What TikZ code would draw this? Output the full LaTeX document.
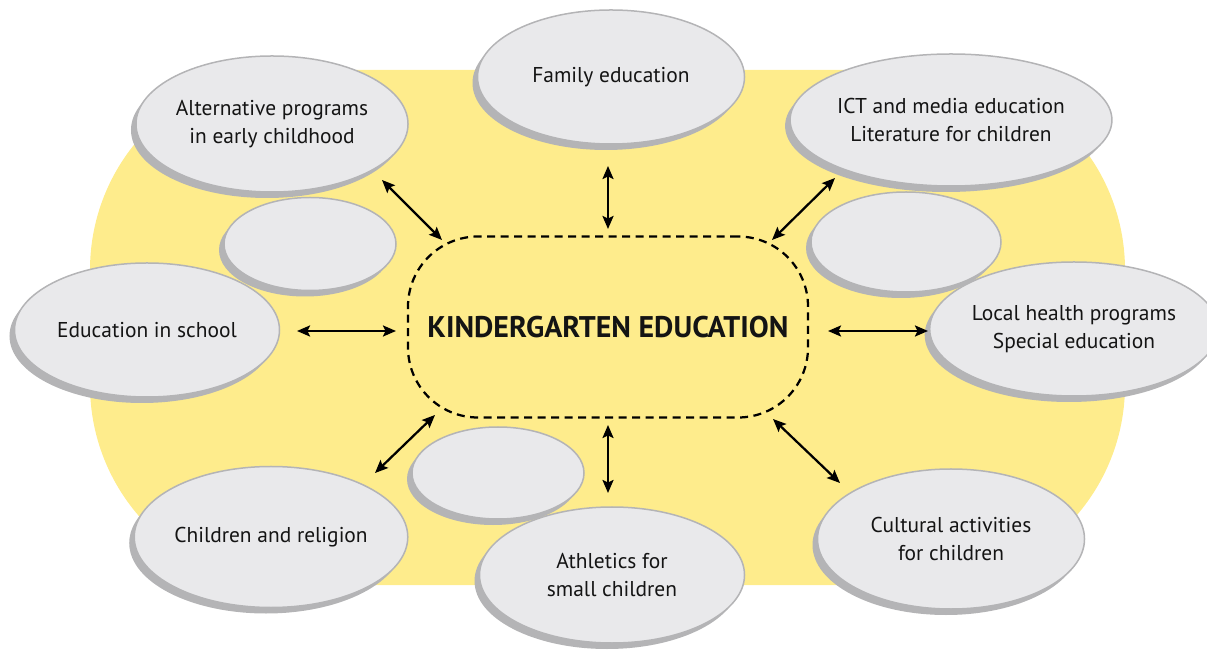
\documentclass[tikz,border=0pt]{standalone}
\usepackage{fontspec}
\setmainfont{PT Sans}
\usetikzlibrary{shapes.geometric,shadows,arrows.meta}
\definecolor{bgyellow}{RGB}{254,236,140}
\definecolor{bubblefill}{RGB}{233,233,235}
\definecolor{ringgray}{RGB}{180,180,182}

\begin{document}
\begin{tikzpicture}[x=0.2mm, y=-0.2mm,
    bubble/.style={ellipse, fill=bubblefill, draw=ringgray, line width=0.3mm,
      inner sep=0pt, align=center, text=black!92,
      font=\fontsize{12.2}{15.6}\selectfont,
      general shadow={fill=ringgray, shadow xshift=-1mm, shadow yshift=-1.2mm}},
    centre/.style={rectangle, rounded corners=14mm, draw, line width=0.45mm,
      dash pattern=on 1.6mm off 1.1mm, minimum width=80mm, minimum height=36.2mm,
      text=black!92, font=\fontsize{17}{20}\selectfont\bfseries},
    link/.style={<->, >={Stealth[length=2.6mm,width=2.2mm,inset=0.5mm]}, line width=0.45mm}]

    \useasboundingbox (0,0) rectangle (1207,651);
    \fill [bgyellow, rounded corners=40mm] (90,70) rectangle (1125,585);

    \node [bubble, minimum width=53.2mm, minimum height=27.2mm] (a) at (272,124) {Alternative programs\\in early childhood};
    \node [bubble, minimum width=53.4mm, minimum height=26.8mm] (b) at (611,77) {Family education};
    \node [bubble, minimum width=53.4mm, minimum height=26.4mm] (c) at (951,120) {ICT and media education\\Literature for children};
    \node [bubble, minimum width=34.4mm, minimum height=18.6mm] (d) at (310,244) {};
    \node [bubble, minimum width=38mm, minimum height=20mm] (e) at (906,242) {};
    \node [bubble, minimum width=53mm, minimum height=26.8mm] (f) at (147,330) {Education in school};
    \node [bubble, minimum width=52mm, minimum height=26.8mm] (g) at (1074,329) {Local health programs\\Special education};
    \node [bubble, minimum width=34.4mm, minimum height=18.4mm] (h) at (498,473) {};
    \node [bubble, minimum width=53.4mm, minimum height=28.2mm] (i) at (271,537) {Children and religion};
    \node [bubble, minimum width=53mm, minimum height=27.2mm] (j) at (612,575) {Athletics for\\small children};
    \node [bubble, minimum width=53.4mm, minimum height=28mm] (k) at (951,539) {Cultural activities\\for children};

    \node [centre] (m) at (608,327) {KINDERGARTEN EDUCATION};

    \coordinate (p1) at (382,180);
    \coordinate (q1) at (442,240);
    \coordinate (p2) at (608,166);
    \coordinate (q2) at (608,229);
    \coordinate (p3) at (835,178);
    \coordinate (q3) at (772,240);
    \coordinate (p4) at (297,331);
    \coordinate (q4) at (396,331);
    \coordinate (p5) at (928,331);
    \coordinate (q5) at (828,331);
    \coordinate (p6) at (375,473);
    \coordinate (q6) at (435,415);
    \coordinate (p7) at (608,493);
    \coordinate (q7) at (608,425);
    \coordinate (p8) at (840,483);
    \coordinate (q8) at (773,419);

    \draw [link] (p1) -- (q1);
    \draw [link] (p2) -- (q2);
    \draw [link] (p3) -- (q3);
    \draw [link] (p4) -- (q4);
    \draw [link] (p5) -- (q5);
    \draw [link] (p6) -- (q6);
    \draw [link] (p7) -- (q7);
    \draw [link] (p8) -- (q8);

\end{tikzpicture}
\end{document}
